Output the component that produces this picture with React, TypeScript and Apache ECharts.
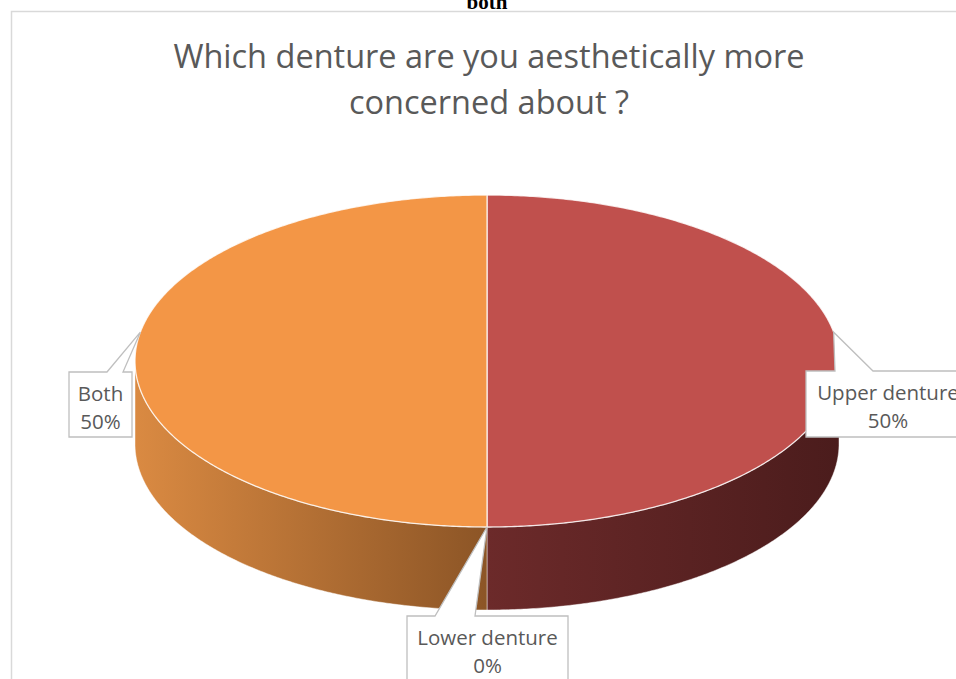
import React, { useEffect, useRef } from "react";
import * as echarts from "echarts";

// ---- data ----
const categories = ["Upper denture", "Lower denture", "Both"];
const values = [50, 0, 50];
const chartTitleLines = ["Which denture are you aesthetically more", "concerned about ?"];
const captionAbove = "both";

// ---- styles / layout ----
const topColors = ["#C0504D", "#9BBB59", "#F39646"];
const sideGradients = [
  ["#6C2A2A", "#4B1C1C"],
  ["#7A9444", "#56682F"],
  ["#DA8A42", "#8C5526"],
];
const CX = 487;
const CY = 361;
const RX = 352;
const RY = 166;
const DEPTH = 83;
const LABEL_FONT = '20.5px "Open Sans", "Liberation Sans", sans-serif';
const TITLE_FONT = '32.5px "Open Sans", "Liberation Sans", sans-serif';
const labelLayout = [
  { anchorShift: -10, box: [806, 371, 164, 66], wedge: [835, 873] },
  { anchorShift: 0, box: [407, 616, 161, 80], wedge: [435, 475] },
  { anchorShift: 10, box: [69, 372, 63, 65], wedge: [107, 123] },
];

const rad = (d: number) => (d * Math.PI) / 180;
const pt = (deg: number, dy = 0): number[] => [
  CX + RX * Math.sin(rad(deg)),
  CY - RY * Math.cos(rad(deg)) + dy,
];
const arc = (a0: number, a1: number, dy = 0): number[][] => {
  const out: number[][] = [];
  const n = Math.max(1, Math.ceil(Math.abs(a1 - a0) / 0.5));
  for (let k = 0; k <= n; k++) out.push(pt(a0 + ((a1 - a0) * k) / n, dy));
  return out;
};

export default function App() {
  const ref = useRef<HTMLDivElement>(null);
  useEffect(() => {
    if (!ref.current) return;
    const chart = echarts.init(ref.current, null, { renderer: "svg" });
    const total = values.reduce((a, b) => a + b, 0);

    const renderItem = (params: any, api: any) => {
      const i = params.dataIndex;
      const v = api.value(0) as number;
      const before = values.slice(0, i).reduce((a, b) => a + b, 0);
      const start = (before / total) * 360;
      const end = ((before + v) / total) * 360;
      const children: any[] = [];

      // side face (front half: 90..270)
      const lo = Math.max(start, 90);
      const hi = Math.min(end, 270);
      if (hi > lo) {
        const pts = arc(lo, hi, 0).concat(arc(hi, lo, DEPTH));
        const xs = pts.map((p) => p[0]);
        const g = sideGradients[i];
        children.push({
          type: "polygon",
          z2: 1,
          shape: { points: pts },
          style: {
            fill: {
              type: "linear",
              x: Math.min(...xs),
              y: 0,
              x2: Math.max(...xs),
              y2: 0,
              global: true,
              colorStops: [
                { offset: 0, color: g[0] },
                { offset: 1, color: g[1] },
              ],
            },
            stroke: "rgba(255,255,255,0.45)",
            lineWidth: 1,
          },
        });
      }

      // top face
      if (end > start) {
        const pts = [[CX, CY]].concat(arc(start, end, 0));
        children.push({
          type: "polygon",
          z2: 5,
          shape: { points: pts },
          style: {
            fill: topColors[i],
            stroke: "rgba(255,255,255,0.8)",
            lineWidth: 1.3,
          },
        });
      }

      // callout label
      const lay = labelLayout[i];
      const mid = (start + end) / 2;
      const a = pt(mid + lay.anchorShift);
      const [bx, by, bw, bh] = lay.box;
      const [w1, w2] = lay.wedge;
      children.push({
        type: "polygon",
        z2: 10,
        shape: {
          points: [
            [bx, by],
            [w1, by],
            a,
            [w2, by],
            [bx + bw, by],
            [bx + bw, by + bh],
            [bx, by + bh],
          ],
        },
        style: { fill: "#FFFFFF", stroke: "#BFBFBF", lineWidth: 1.3 },
      });
      const pct = Math.round((v / total) * 100) + "%";
      [categories[i], pct].forEach((t, k) => {
        children.push({
          type: "text",
          z2: 11,
          style: {
            text: t,
            x: bx + bw / 2,
            y: by + 21 + k * 28,
            textAlign: "center",
            textVerticalAlign: "middle",
            font: LABEL_FONT,
            fill: "#595959",
          },
        });
      });

      return { type: "group", children };
    };

    chart.setOption({
      animation: false,
      backgroundColor: "#FFFFFF",
      graphic: [
        {
          type: "rect",
          silent: true,
          z: -1,
          shape: { x: 11.5, y: 11.5, width: 1000, height: 1000 },
          style: { fill: "none", stroke: "#D9D9D9", lineWidth: 1.5 },
        },
        {
          type: "text",
          silent: true,
          style: {
            text: captionAbove,
            x: 487,
            y: 12,
            textAlign: "center",
            textVerticalAlign: "bottom",
            font: 'bold 21px "Liberation Serif", serif',
            fill: "#000000",
          },
        },
        ...chartTitleLines.map((t, k) => ({
          type: "text",
          silent: true,
          style: {
            text: t,
            x: 489,
            y: 55 + k * 46,
            textAlign: "center",
            textVerticalAlign: "middle",
            font: TITLE_FONT,
            fill: "#595959",
          },
        })),
      ],
      series: [
        {
          type: "custom",
          coordinateSystem: "none",
          silent: true,
          renderItem,
          data: values.map((v, i) => ({ name: categories[i], value: [v] })),
        },
      ],
    });
    return () => chart.dispose();
  }, []);
  return (
    <div
      ref={ref}
      style={{ position: "fixed", left: 0, top: 0, width: "956px", height: "679px" }}
    />
  );
}
